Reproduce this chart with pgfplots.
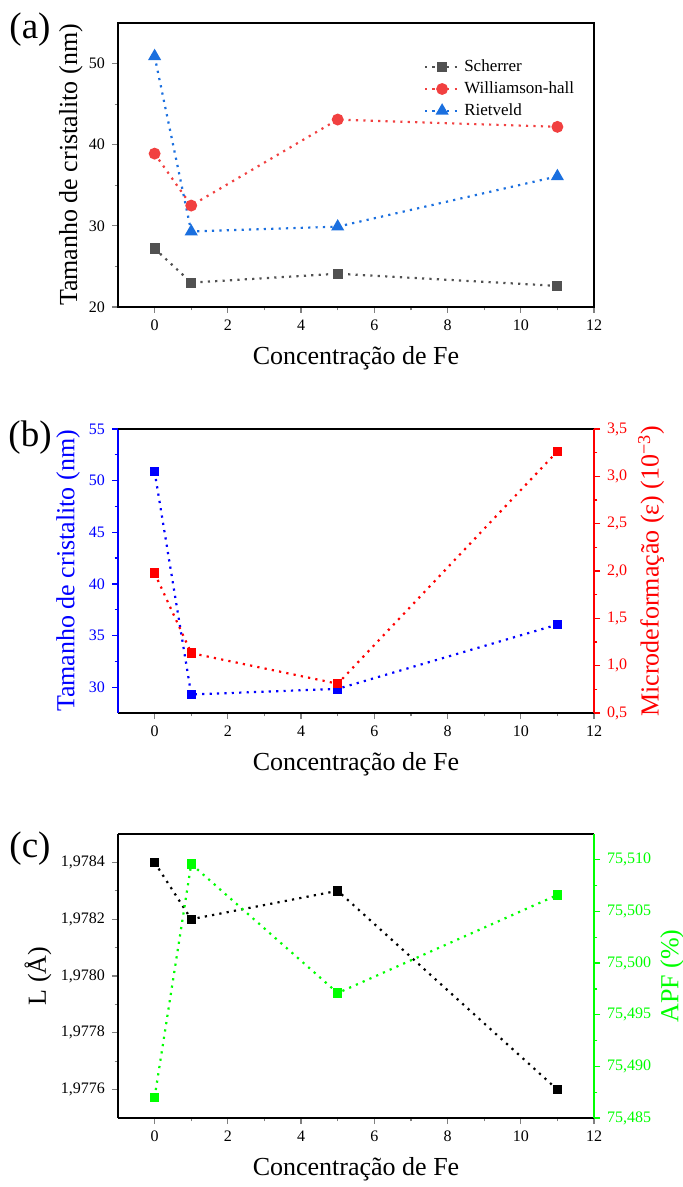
\documentclass[border=0pt]{standalone}
\usepackage{pgfplots}
\pgfplotsset{compat=1.18}
\usepackage{pgfplotstable}
\usepackage{fontspec}
\setmainfont{Liberation Serif}

\definecolor{schgray}{HTML}{515151}
\definecolor{whred}{HTML}{F14040}
\definecolor{rietblue}{HTML}{1A6FDF}
\definecolor{pureblue}{HTML}{0000FF}
\definecolor{purered}{HTML}{FF0000}
\definecolor{puregreen}{HTML}{00FF00}

% crystallite size (nm) by method
\pgfplotstableread{
fe  scherrer  wh    rietveld
0   27.2      38.9  50.9
1   23.0      32.5  29.3
5   24.1      43.1  29.9
11  22.6      42.2  36.1
}\sizes

% Rietveld size (nm) and microstrain (10^-3)
\pgfplotstableread{
fe  size   strain
0   50.87  1.977
1   29.29  1.133
5   29.84  0.809
11  36.06  3.264
}\strain

% bond length L (angstrom) and APF (%)
\pgfplotstableread{
fe  L       apf
0   1.9784  75.4870
1   1.9782  75.5096
5   1.9783  75.4971
11  1.9776  75.5066
}\lattice

\pgfplotsset{
  panel/.style={
    scale only axis, width=238pt, height=142pt,
    xmin=-1, xmax=12,
    xtick={0,2,...,12}, minor x tick num=1,
    tick align=outside,
    major tick length=3pt, minor tick length=1.7pt,
    tick style={line width=0.6pt},
    axis line style={line width=0.8pt},
    tick label style={font=\fontsize{8}{9}\selectfont},
    label style={font=\fontsize{13}{15}\selectfont},
    /pgf/number format/assume math mode=true,
    xlabel={Concentração de Fe},
    xlabel style={at={(axis description cs:0.5,-0.18)}, anchor=center},
    clip=false,
  },
  dotline/.style={dash pattern=on 1.1pt off 2.6pt, line width=1.1pt},
}

\begin{document}
\begin{tikzpicture}
\useasboundingbox (0,0) rectangle (341.5pt,-593.5pt);

% ---------------- (a) ----------------
\begin{axis}[panel, at={(59pt,-11.5pt)}, anchor=north west,
  tick pos=left,
  ymin=20, ymax=55, ytick={20,30,40,50}, minor y tick num=1,
  ylabel={Tamanho de cristalito (nm)},
  ylabel style={at={(axis description cs:-0.099,0.5)}, anchor=center},
  legend style={at={(axis description cs:0.98,0.90)}, anchor=north east,
    draw=none, fill=none, font=\fontsize{8.5}{10}\selectfont, row sep=-0.5pt},
  legend cell align=left]
\addplot[schgray, dotline, mark=square*, mark size=2pt, mark options={solid}]
  table[x=fe, y=scherrer]{\sizes};
\addlegendentry{Scherrer}
\addplot[whred, dotline, mark=*, mark size=2.4pt, mark options={solid}]
  table[x=fe, y=wh]{\sizes};
\addlegendentry{Williamson-hall}
\addplot[rietblue, dotline, mark=triangle*, mark size=2.7pt, mark options={solid}]
  table[x=fe, y=rietveld]{\sizes};
\addlegendentry{Rietveld}
\end{axis}
\node[font=\fontsize{18.5}{20}\selectfont] at (15pt,-15pt) {(a)};

% ---------------- (b) ----------------
\begin{axis}[panel, at={(59pt,-214.5pt)}, anchor=north west,
  axis x line*=bottom, axis y line*=left,
  ymin=27.5, ymax=55, ytick={30,35,40,45,50,55}, minor y tick num=1,
  y axis line style={pureblue}, y tick style={pureblue},
  y tick label style={pureblue},
  ylabel={Tamanho de cristalito (nm)},
  ylabel style={pureblue, at={(axis description cs:-0.105,0.5)}, anchor=center}]
\addplot[pureblue, dotline, mark=square*, mark size=1.8pt, mark options={solid}]
  table[x=fe, y=size]{\strain};
\end{axis}
\begin{axis}[panel, at={(59pt,-214.5pt)}, anchor=north west,
  axis x line*=top, axis y line*=right, xtick=\empty, xlabel={},
  ymin=0.5, ymax=3.5, ytick={0.5,1.0,1.5,2.0,2.5,3.0,3.5}, minor y tick num=1,
  y axis line style={purered}, y tick style={purered},
  y tick label style={purered, /pgf/number format/.cd, fixed, fixed zerofill,
    precision=1, use comma},
  ylabel={Microdeformação (ε) (10\textsuperscript{−3})},
  ylabel style={purered, at={(axis description cs:1.12,0.5)}, anchor=center}]
\addplot[purered, dotline, mark=square*, mark size=1.8pt, mark options={solid}]
  table[x=fe, y=strain]{\strain};
\end{axis}
\node[font=\fontsize{18.5}{20}\selectfont] at (15pt,-219pt) {(b)};

% ---------------- (c) ----------------
\begin{axis}[panel, at={(59pt,-417pt)}, anchor=north west,
  axis x line*=bottom, axis y line*=left,
  ymin=1.9775, ymax=1.9785,
  ytick={1.9776,1.9778,1.9780,1.9782,1.9784}, minor y tick num=1,
  y tick label style={/pgf/number format/.cd, fixed, fixed zerofill,
    precision=4, use comma},
  ylabel={L (Å)},
  ylabel style={at={(axis description cs:-0.168,0.5)}, anchor=center}]
\addplot[black, dotline, mark=square*, mark size=1.8pt, mark options={solid}]
  table[x=fe, y=L]{\lattice};
\end{axis}
\begin{axis}[panel, at={(59pt,-417pt)}, anchor=north west,
  axis x line*=top, axis y line*=right, xtick=\empty, xlabel={},
  ymin=75.485, ymax=75.5125,
  ytick={75.485,75.490,75.495,75.500,75.505,75.510}, minor y tick num=1,
  y axis line style={puregreen}, y tick style={puregreen},
  y tick label style={puregreen, /pgf/number format/.cd, fixed, fixed zerofill,
    precision=3, use comma, 1000 sep={}},
  ylabel={APF (\%)},
  ylabel style={puregreen, at={(axis description cs:1.164,0.5)}, anchor=center}]
\addplot[puregreen, dotline, mark=square*, mark size=1.8pt, mark options={solid}]
  table[x=fe, y=apf]{\lattice};
\end{axis}
\node[font=\fontsize{18.5}{20}\selectfont] at (15pt,-424.5pt) {(c)};
\end{tikzpicture}
\end{document}
